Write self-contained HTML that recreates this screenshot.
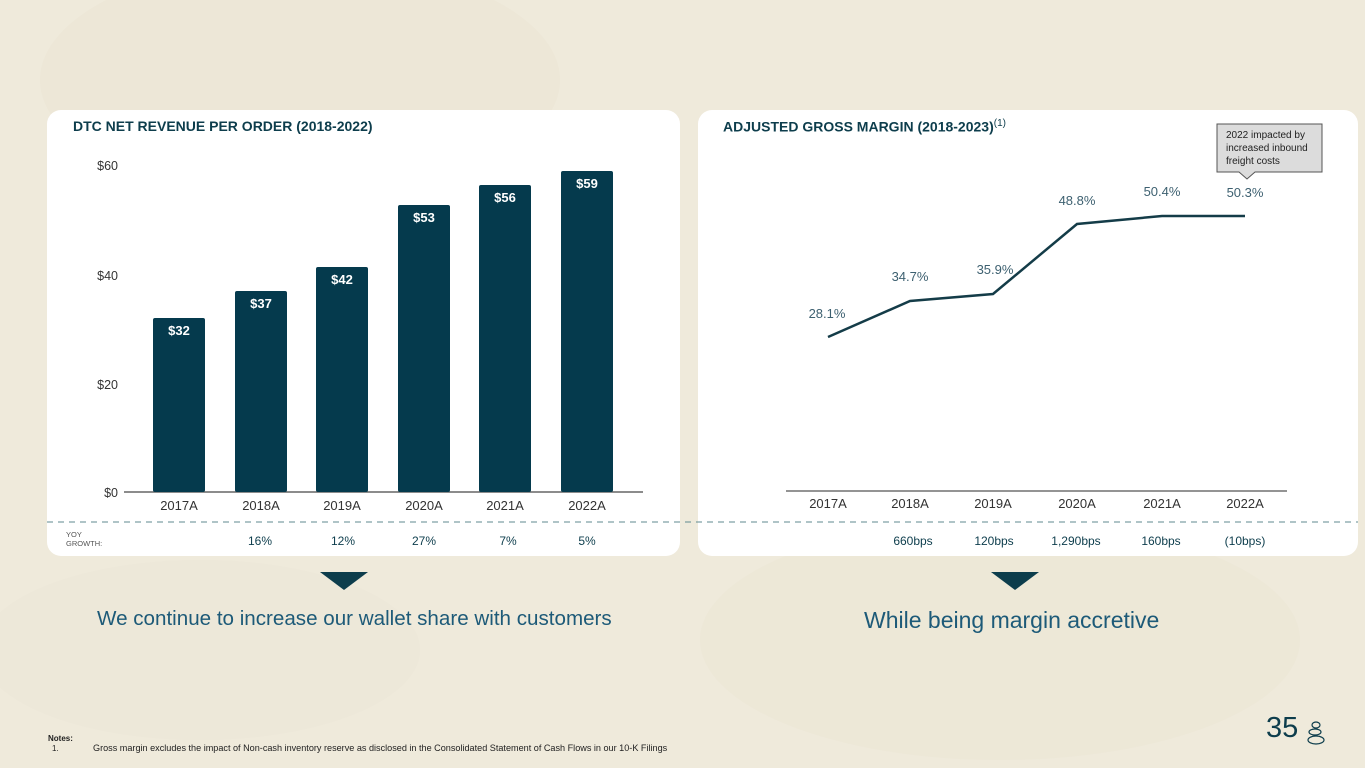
<!DOCTYPE html>
<html><head><meta charset="utf-8"><style>
body{margin:0;width:1365px;height:768px;overflow:hidden;background:#efeadb;font-family:"Liberation Sans",sans-serif;position:relative}
.card{position:absolute;background:#fff;border-radius:14px}
.t{position:absolute;white-space:nowrap}
</style></head><body>
<svg width="1365" height="768" style="position:absolute;left:0;top:0">
<ellipse cx="300" cy="80" rx="260" ry="120" fill="#ebe5d4" opacity=".6"/>
<ellipse cx="1000" cy="640" rx="300" ry="120" fill="#ebe5d4" opacity=".5"/>
<ellipse cx="200" cy="650" rx="220" ry="90" fill="#ece6d7" opacity=".5"/>
</svg>
<div class="card" style="left:47px;top:110px;width:633px;height:446px"></div>
<div class="card" style="left:698px;top:110px;width:660px;height:446px"></div>
<svg width="1365" height="768" style="position:absolute;left:0;top:0" font-family="Liberation Sans, sans-serif">
<line x1="47" y1="522" x2="1358" y2="522" stroke="#5f8a8f" stroke-dasharray="6,5" stroke-width="1"/>
<line x1="124" y1="492" x2="643" y2="492" stroke="#666" stroke-width="1.5"/>
<g fill="#053a4d">
<rect x="153" y="318" width="52" height="174" rx="2"/>
<rect x="235" y="291" width="52" height="201" rx="2"/>
<rect x="316" y="267" width="52" height="225" rx="2"/>
<rect x="398" y="205" width="52" height="287" rx="2"/>
<rect x="479" y="185" width="52" height="307" rx="2"/>
<rect x="561" y="171" width="52" height="321" rx="2"/>
</g>
<g fill="#fff" font-size="13" text-anchor="middle" font-weight="bold">
<text x="179" y="335">$32</text><text x="261" y="308">$37</text><text x="342" y="284">$42</text>
<text x="424" y="222">$53</text><text x="505" y="202">$56</text><text x="587" y="188">$59</text>
</g>
<g fill="#333" font-size="12.5" text-anchor="end">
<text x="118" y="170">$60</text><text x="118" y="280">$40</text><text x="118" y="389">$20</text><text x="118" y="497">$0</text>
</g>
<g fill="#333" font-size="13" text-anchor="middle">
<text x="179" y="510">2017A</text><text x="261" y="510">2018A</text><text x="342" y="510">2019A</text>
<text x="424" y="510">2020A</text><text x="505" y="510">2021A</text><text x="587" y="510">2022A</text>
<text x="828" y="508">2017A</text><text x="910" y="508">2018A</text><text x="993" y="508">2019A</text>
<text x="1077" y="508">2020A</text><text x="1162" y="508">2021A</text><text x="1245" y="508">2022A</text>
</g>
<g fill="#0d3d4c" font-size="12" text-anchor="middle">
<text x="260" y="545">16%</text><text x="343" y="545">12%</text><text x="424" y="545">27%</text><text x="508" y="545">7%</text><text x="587" y="545">5%</text>
<text x="913" y="545">660bps</text><text x="994" y="545">120bps</text><text x="1076" y="545">1,290bps</text><text x="1161" y="545">160bps</text><text x="1245" y="545">(10bps)</text>
</g>
<text x="66" y="537" font-size="7.5" fill="#555">YOY</text><text x="66" y="546" font-size="7.5" fill="#555">GROWTH:</text>
<line x1="786" y1="491" x2="1287" y2="491" stroke="#555" stroke-width="1.2"/>
<polyline points="828,337 910,301 993,294 1077,224 1162,216 1245,216" fill="none" stroke="#143c48" stroke-width="2.5"/>
<g fill="#3d6070" font-size="13" text-anchor="middle">
<text x="827" y="318">28.1%</text><text x="910" y="281">34.7%</text><text x="995" y="274">35.9%</text>
<text x="1077" y="205">48.8%</text><text x="1162" y="196">50.4%</text><text x="1245" y="197">50.3%</text>
</g>
<path d="M1217 124 H1322 V172 H1255 L1247 179 L1239 172 H1217 Z" fill="#dcdcdc" stroke="#555" stroke-width="1"/>
<g fill="#222" font-size="10"><text x="1226" y="138">2022 impacted by</text><text x="1226" y="151">increased inbound</text><text x="1226" y="164">freight costs</text></g>
<polygon points="320,572 368,572 344,590" fill="#0d3d4c"/>
<polygon points="991,572 1039,572 1015,590" fill="#0d3d4c"/>
<g fill="none" stroke="#0d3d4c" stroke-width="1.2"><ellipse cx="1316" cy="725" rx="4" ry="3"/><ellipse cx="1315" cy="732" rx="6" ry="3"/><ellipse cx="1316" cy="740" rx="8" ry="4"/></g>
</svg>
<div class="t" style="left:73px;top:118px;font-size:14px;font-weight:bold;color:#0d3d4c">DTC NET REVENUE PER ORDER (2018-2022)</div>
<div class="t" style="left:723px;top:118px;font-size:14px;font-weight:bold;color:#0d3d4c">ADJUSTED GROSS MARGIN (2018-2023)<sup style="font-weight:normal;font-size:10px">(1)</sup></div>
<div class="t" style="left:97px;top:607px;font-size:20.6px;color:#1d5a78">We continue to increase our wallet share with customers</div>
<div class="t" style="left:864px;top:607px;font-size:23px;color:#1d5a78">While being margin accretive</div>
<div class="t" style="left:1266px;top:712px;font-size:29px;color:#0d3d4c">35</div>
<div class="t" style="left:48px;top:734px;font-size:8px;font-weight:bold;color:#222">Notes:</div>
<div class="t" style="left:52px;top:744px;font-size:8px;color:#222">1.</div>
<div class="t" style="left:93px;top:743px;font-size:9.1px;color:#222">Gross margin excludes the impact of Non-cash inventory reserve as disclosed in the Consolidated Statement of Cash Flows in our 10-K Filings</div>
</body></html>
